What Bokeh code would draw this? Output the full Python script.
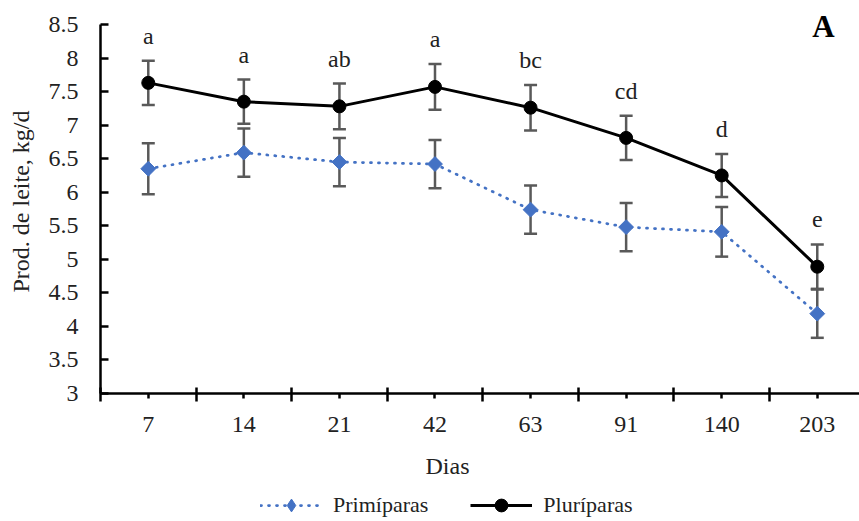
import math
from bokeh.plotting import figure
from bokeh.models import (Range1d, FixedTicker, Whisker, ColumnDataSource, Legend,
                          LegendItem, Label, TeeHead)
from bokeh.embed import file_html
from bokeh.resources import INLINE
from bokeh.core.properties import value

# ---- data ----
days = ["7", "14", "21", "42", "63", "91", "140", "203"]
primiparas = [6.35, 6.59, 6.45, 6.42, 5.74, 5.48, 5.41, 4.19]
primiparas_se = [0.38, 0.36, 0.36, 0.36, 0.36, 0.36, 0.37, 0.36]
pluriparas = [7.63, 7.35, 7.28, 7.57, 7.26, 6.81, 6.25, 4.89]
pluriparas_se = [0.33, 0.33, 0.34, 0.34, 0.34, 0.33, 0.32, 0.33]
letters = ["a", "a", "ab", "a", "bc", "cd", "d", "e"]
y_ticks = [3.0, 3.5, 4.0, 4.5, 5.0, 5.5, 6.0, 6.5, 7.0, 7.5, 8.0, 8.5]
y_tick_labels = ["3", "3.5", "4", "4.5", "5", "5.5", "6", "6.5", "7", "7.5", "8", "8.5"]
x_title = "Dias"
y_title = "Prod. de leite, kg/d"
panel_tag = "A"

FONT = "Liberation Serif"
BLUE = "#4472C4"
ERR = "#595959"
TXT = "#222222"

W, H = 859, 521
xi = list(range(len(days)))
x_lo, x_hi = -0.5, len(days) - 0.5       # category band edges
y_lo, y_hi = y_ticks[0], y_ticks[-1]

src_pri = ColumnDataSource(dict(
    x=xi, y=primiparas,
    up=[v + e for v, e in zip(primiparas, primiparas_se)],
    lo=[v - e for v, e in zip(primiparas, primiparas_se)]))
src_plu = ColumnDataSource(dict(
    x=xi, y=pluriparas,
    up=[v + e for v, e in zip(pluriparas, pluriparas_se)],
    lo=[v - e for v, e in zip(pluriparas, pluriparas_se)],
    lab=letters))

# plot-area geometry in pixels (frame = whole canvas, axes fixed inside)
left_px, top_px, bottom_px, band_px = 100, 24, 393, 95.57
ppu = (bottom_px - top_px) / (y_hi - y_lo)
xr = Range1d(x_lo - left_px / band_px, x_lo + (W - left_px) / band_px)
yr = Range1d(y_lo - (H - bottom_px) / ppu, y_hi + top_px / ppu)

p = figure(width=W, height=H, output_backend="svg", toolbar_location=None,
           x_range=xr, y_range=yr, min_border=0)
p.outline_line_color = None
p.grid.visible = False
p.background_fill_color = "white"
p.border_fill_color = "white"

# axes
xa = p.xaxis[0]
xa.fixed_location = y_lo
xa.bounds = (x_lo, x_hi)
xa.ticker = FixedTicker(ticks=xi, minor_ticks=[i - 0.5 for i in range(len(days) + 1)])
xa.major_label_overrides = {i: d for i, d in enumerate(days)}
xa.major_tick_in = 0
xa.major_tick_out = 5
xa.minor_tick_in = 6
xa.minor_tick_out = 8
xa.major_label_standoff = 15

ya = p.yaxis[0]
ya.fixed_location = x_lo
ya.bounds = (y_lo, y_hi)
ya.ticker = FixedTicker(ticks=y_ticks, minor_ticks=[])
ya.major_label_overrides = {t: l for t, l in zip(y_ticks, y_tick_labels)}
ya.major_tick_in = 8
ya.major_tick_out = 0
ya.minor_tick_in = 0
ya.minor_tick_out = 0
ya.major_label_standoff = 22

for ax in (xa, ya):
    ax.axis_line_color = "black"
    ax.axis_line_width = 2.5
    ax.major_tick_line_color = "black"
    ax.major_tick_line_width = 2.5
    ax.minor_tick_line_color = "black"
    ax.minor_tick_line_width = 2.5
    ax.major_label_text_font = FONT
    ax.major_label_text_font_size = "24px"
    ax.major_label_text_color = TXT

# series
l_pri = p.line("x", "y", source=src_pri, line_color=BLUE, line_width=2.75,
               line_dash="1 7", line_cap="round")
s_pri = p.scatter("x", "y", source=src_pri, marker="square", angle=math.pi / 4,
                  size=10.5, fill_color=BLUE, line_color=BLUE)
# legend-only marker (legend glyphs are never rotated)
s_pri_key = p.scatter("x", "y", source=src_pri, marker="diamond",
                      fill_color=BLUE, line_color=BLUE, visible=False)
l_plu = p.line("x", "y", source=src_plu, line_color="black", line_width=3)
s_plu = p.scatter("x", "y", source=src_plu, marker="circle", size=13,
                  fill_color="black", line_color="black")

for src in (src_pri, src_plu):
    w = Whisker(base="x", upper="up", lower="lo", source=src,
                line_color=ERR, line_width=2.5,
                upper_head=TeeHead(size=13, line_color=ERR, line_width=2.5),
                lower_head=TeeHead(size=13, line_color=ERR, line_width=2.5))
    p.add_layout(w)

p.text("x", "up", text="lab", source=src_plu, text_align="center",
       text_baseline="alphabetic", y_offset=-25, text_font=value(FONT),
       text_font_size="24px", text_color=TXT)

# titles (screen units measured from the canvas bottom-left)
p.add_layout(Label(x=823, y=H - 26, x_units="screen", y_units="screen", text=panel_tag,
                   text_font=FONT, text_font_size="31px", text_font_style="bold",
                   text_align="center", text_baseline="alphabetic", text_color="black"))
p.add_layout(Label(x=447, y=H - 465, x_units="screen", y_units="screen", text=x_title,
                   text_font=FONT, text_font_size="24px", text_align="center",
                   text_baseline="alphabetic", text_color=TXT))
p.add_layout(Label(x=20, y=H - 201, x_units="screen", y_units="screen", text=y_title,
                   angle=math.pi / 2, text_font=FONT, text_font_size="24px",
                   text_align="center", text_baseline="middle", text_color=TXT))

legend = Legend(items=[LegendItem(label="Primíparas", renderers=[l_pri, s_pri_key]),
                       LegendItem(label="Pluríparas", renderers=[l_plu, s_plu])],
                orientation="horizontal", location=(260, 0),
                glyph_width=62, glyph_height=32, label_standoff=11, spacing=42,
                label_height=20, padding=0, margin=0, border_line_color=None,
                background_fill_alpha=0, inactive_fill_alpha=0,
                label_text_font=FONT, label_text_font_size="22px",
                label_text_color=TXT)
p.add_layout(legend, "center")

open("out.html", "w").write(file_html(p, INLINE))
